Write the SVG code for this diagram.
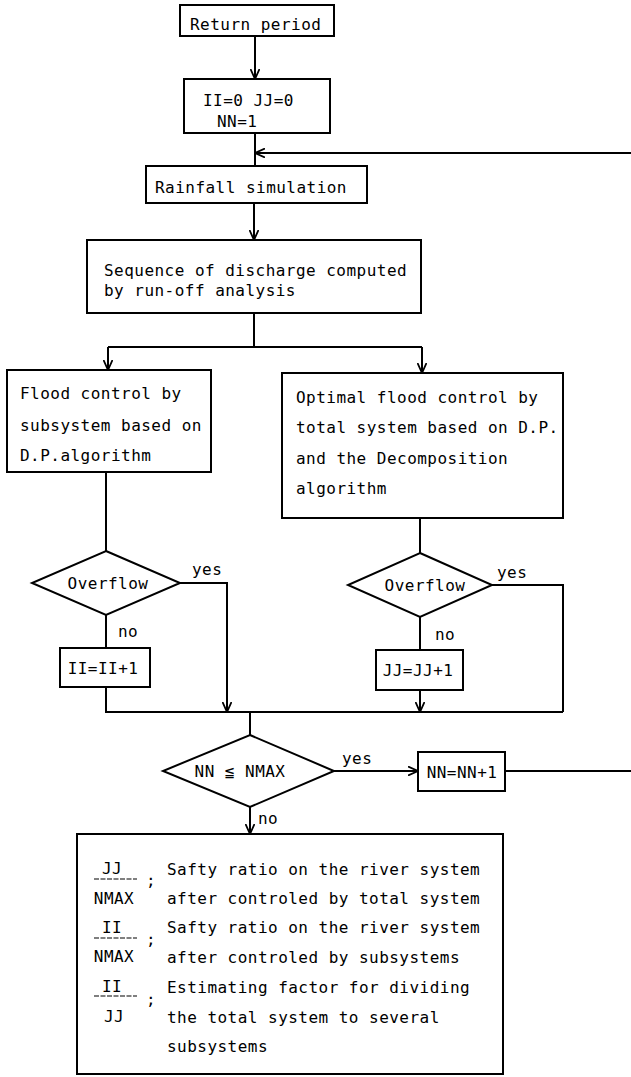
<svg xmlns="http://www.w3.org/2000/svg" width="631" height="1077" viewBox="0 0 631 1077">
<style>
.b{fill:#fff;stroke:#000;stroke-width:2}
.c{fill:none;stroke:#000;stroke-width:2}
.fr{fill:none;stroke:#000;stroke-width:1.2;stroke-dasharray:5,1.5}
text{font-family:"DejaVu Sans Mono","Liberation Mono",monospace;font-size:16px;letter-spacing:0.47px;fill:#000}
.m{text-anchor:middle}
</style>
<defs>
<marker id="ar" viewBox="0 0 10 10" refX="10" refY="5" markerWidth="10" markerHeight="10" orient="auto" markerUnits="userSpaceOnUse">
<path d="M0,0.5 L10,5 L0,9.5" fill="none" stroke="#000" stroke-width="1.8"/>
</marker>
</defs>
<g id="connectors">
<path class="c" d="M255,36 V79" marker-end="url(#ar)"/>
<path class="c" d="M255,133 V166"/>
<path class="c" d="M631,153 H255" marker-end="url(#ar)"/>
<path class="c" d="M254,203 V240" marker-end="url(#ar)"/>
<path class="c" d="M254,313 V347 M108,347 H422"/>
<path class="c" d="M108,347 V370" marker-end="url(#ar)"/>
<path class="c" d="M422,347 V373" marker-end="url(#ar)"/>
<path class="c" d="M106,472 V551"/>
<path class="c" d="M420,518 V553"/>
<path class="c" d="M106,615 V648"/>
<path class="c" d="M420,617 V650"/>
<path class="c" d="M180,583 H227 V712" marker-end="url(#ar)"/>
<path class="c" d="M420,690 V712" marker-end="url(#ar)"/>
<path class="c" d="M492,585 H563 V712"/>
<path class="c" d="M106,687 V712 H563"/>
<path class="c" d="M250,712 V735"/>
<path class="c" d="M334,771 H418" marker-end="url(#ar)"/>
<path class="c" d="M505,771 H631"/>
<path class="c" d="M250,807 V834" marker-end="url(#ar)"/>
<text x="192" y="575">yes</text>
<text x="497" y="578">yes</text>
<text x="118" y="637">no</text>
<text x="435" y="640">no</text>
<text x="342" y="764">yes</text>
<text x="258" y="824">no</text>
</g>
<g id="n-return">
<rect class="b" x="180" y="5" width="154" height="31"/>
<text x="190" y="30">Return period</text>
</g>
<g id="n-init">
<rect class="b" x="184" y="79" width="146" height="54"/>
<text x="203" y="106">II=0 JJ=0</text>
<text x="217" y="127">NN=1</text>
</g>
<g id="n-rain">
<rect class="b" x="146" y="166" width="221" height="37"/>
<text x="155" y="193">Rainfall simulation</text>
</g>
<g id="n-seq">
<rect class="b" x="87" y="240" width="334" height="73"/>
<text x="104" y="276">Sequence of discharge computed</text>
<text x="104" y="296">by run-off analysis</text>
</g>
<g id="n-sub">
<rect class="b" x="7" y="370" width="204" height="102"/>
<text x="20" y="399">Flood control by</text>
<text x="20" y="431">subsystem based on</text>
<text x="20" y="461">D.P.algorithm</text>
</g>
<g id="n-total">
<rect class="b" x="282" y="373" width="281" height="145"/>
<text x="296" y="403">Optimal flood control by</text>
<text x="296" y="433">total system based on D.P.</text>
<text x="296" y="464">and the Decomposition</text>
<text x="296" y="494">algorithm</text>
</g>
<g id="n-ovf1">
<polygon class="b" points="106,551 180,583 106,615 32,583"/>
<text class="m" x="108" y="589">Overflow</text>
</g>
<g id="n-ovf2">
<polygon class="b" points="420,553 492,585 420,617 348,585"/>
<text class="m" x="425" y="591">Overflow</text>
</g>
<g id="n-ii">
<rect class="b" x="60" y="648" width="90" height="39"/>
<text class="m" x="103" y="674">II=II+1</text>
</g>
<g id="n-jj">
<rect class="b" x="376" y="650" width="87" height="40"/>
<text class="m" x="418" y="676">JJ=JJ+1</text>
</g>
<g id="n-nn">
<polygon class="b" points="250,735 334,771 250,807 163,771"/>
<text class="m" x="240" y="777">NN ≦ NMAX</text>
</g>
<g id="n-inc">
<rect class="b" x="418" y="752" width="87" height="39"/>
<text class="m" x="462" y="778">NN=NN+1</text>
</g>
<g id="n-result">
<rect class="b" x="77" y="834" width="426" height="240"/>
<text class="m" x="112" y="874">JJ</text>
<line class="fr" x1="94" y1="879" x2="137" y2="879"/>
<text class="m" x="114" y="904">NMAX</text>
<text x="146" y="886">;</text>
<text x="167" y="875">Safty ratio on the river system</text>
<text x="167" y="904">after controled by total system</text>
<text class="m" x="112" y="933">II</text>
<line class="fr" x1="94" y1="938" x2="137" y2="938"/>
<text class="m" x="114" y="962">NMAX</text>
<text x="146" y="945">;</text>
<text x="167" y="933">Safty ratio on the river system</text>
<text x="167" y="963">after controled by subsystems</text>
<text class="m" x="112" y="992">II</text>
<line class="fr" x1="94" y1="996" x2="137" y2="996"/>
<text class="m" x="114" y="1022">JJ</text>
<text x="146" y="1005">;</text>
<text x="167" y="993">Estimating factor for dividing</text>
<text x="167" y="1023">the total system to several</text>
<text x="167" y="1052">subsystems</text>
</g>
</svg>
